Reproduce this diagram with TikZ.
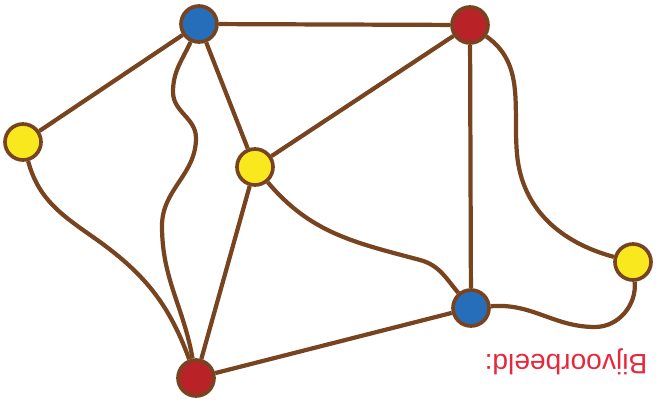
\documentclass[tikz,border=0pt]{standalone}
\usepackage{fontspec}
\setmainfont{Liberation Sans}
\definecolor{marrone}{RGB}{120,68,32}
\definecolor{blu}{RGB}{38,110,185}
\definecolor{rosso}{RGB}{185,35,40}
\definecolor{giallo}{RGB}{250,232,30}
\definecolor{scritta}{RGB}{230,40,60}

\begin{document}
\begin{tikzpicture}[x=0.025cm,y=0.025cm]
			\tikzset{nodo/.style={circle, draw=marrone, line width=2.6pt, minimum size=0.9cm, inner sep=0pt},
				lato/.style={draw=marrone, line width=3pt}}
			\useasboundingbox (0,0) rectangle (667,404);
			
			% Nodi
			\node[nodo, fill=blu] (Ba) at (199,380) {};
			\node[nodo, fill=rosso] (Ra) at (470,379) {};
			\node[nodo, fill=giallo] (Gs) at (23,262) {};
			\node[nodo, fill=giallo] (Gc) at (255,237) {};
			\node[nodo, fill=giallo] (Gd) at (633,142) {};
			\node[nodo, fill=blu] (Bb) at (471,96) {};
			\node[nodo, fill=rosso] (Rb) at (196,26) {};
			
			% Lati dritti
			\draw[lato] (Ba) -- (Ra);
			\draw[lato] (Ba) -- (Gs);
			\draw[lato] (Ba) -- (Gc);
			\draw[lato] (Ra) -- (Gc);
			\draw[lato] (Ra) -- (Bb);
			\draw[lato] (Gc) -- (Rb);
			\draw[lato] (Rb) -- (Bb);
			
			% Lati curvi
			\draw[lato] (Ba) to[out=-115,in=90] (173,312) to[out=-90,in=90] (196,266)
				to[out=-90,in=90] (162,178) to[out=-90,in=100] (Rb);
			\draw[lato] (Gs) to[out=-75,in=145] (93,167) to[out=-35,in=110] (Rb);
			\draw[lato] (Gc) to[out=-50,in=165] (420,144) to[out=-15,in=130] (Bb);
			\draw[lato] (Ra) to[out=-35,in=95] (517,250) to[out=-85,in=165] (Gd);
			\draw[lato] (Bb) to[out=5,in=180] (595,77) to[out=0,in=-85] (Gd);
			
			% Scritta capovolta
			\node[text=scritta, rotate=180, font=\fontsize{20}{24}\selectfont] (T) at (566,42) {Bijvoorbeeld:};
		\end{tikzpicture}
\end{document}
